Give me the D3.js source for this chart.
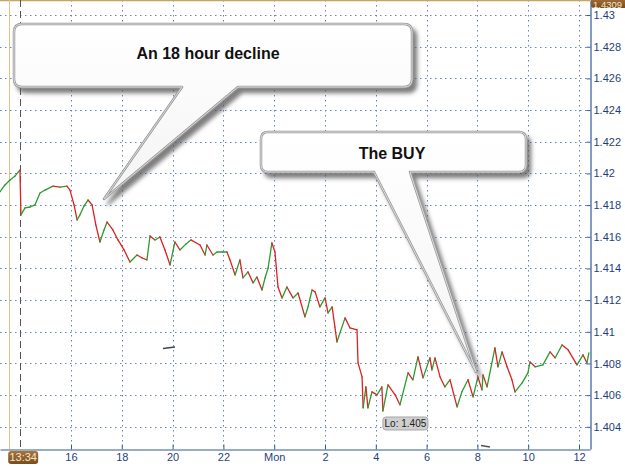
<!DOCTYPE html>
<html><head><meta charset="utf-8">
<script src="https://cdn.jsdelivr.net/npm/d3@7"></script>
<style>
html,body{margin:0;padding:0;background:#fff;}
svg{display:block;font-family:Arial,"Liberation Sans",sans-serif;}
</style></head>
<body>
<svg id="chart" width="625" height="466"></svg>
<script>
// ---- data (hours since start of previous day; 24 = Monday 00:00) ----
const times = [13.20,13.40,13.60,13.80,13.99,14.03,14.19,14.39,14.58,14.78,14.98,15.29,15.57,15.84,15.96,16.12,16.24,16.35,16.51,16.67,16.83,16.98,17.14,17.30,17.42,17.65,17.85,18.09,18.32,18.60,18.80,18.99,19.11,19.31,19.50,19.70,19.90,20.09,20.29,20.53,20.72,21.08,21.28,21.35,21.59,21.75,21.98,22.14,22.26,22.46,22.65,22.77,22.97,23.17,23.32,23.52,23.64,23.76,23.91,24.03,24.15,24.31,24.50,24.74,24.94,25.21,25.33,25.49,25.61,25.80,26.00,26.12,26.28,26.39,26.47,26.79,26.98,27.26,27.30,27.46,27.50,27.61,27.69,27.85,28.05,28.24,28.28,28.48,28.76,28.95,29.27,29.46,29.66,29.86,30.13,30.21,30.33,30.53,30.72,30.92,31.20,31.39,31.63,31.83,32.02,32.18,32.22,32.38,32.69,32.81,32.97,33.17,33.36,33.48,33.76,33.99,34.07,34.27,34.58,34.86,35.06,35.33,35.57,35.92,36.16,36.31,36.39];
const prices = [1.41883,1.41927,1.41958,1.41984,1.42021,1.41738,1.41782,1.41788,1.41801,1.41876,1.41895,1.41920,1.41914,1.41920,1.41895,1.41801,1.41706,1.41738,1.41794,1.41832,1.41801,1.41674,1.41567,1.41643,1.41693,1.41643,1.41580,1.41517,1.41441,1.41485,1.41466,1.41454,1.41605,1.41580,1.41599,1.41517,1.41422,1.41567,1.41517,1.41555,1.41580,1.41548,1.41485,1.41548,1.41485,1.41504,1.41504,1.41504,1.41454,1.41359,1.41454,1.41340,1.41378,1.41309,1.41346,1.41264,1.41340,1.41403,1.41561,1.41504,1.41283,1.41214,1.41283,1.41214,1.41245,1.41094,1.41157,1.41264,1.41252,1.41157,1.41214,1.41119,1.41157,1.41031,1.40936,1.41088,1.41025,1.41012,1.40804,1.40715,1.40520,1.40652,1.40520,1.40621,1.40602,1.40652,1.40500,1.40665,1.40602,1.40539,1.40741,1.40697,1.40842,1.40709,1.40835,1.40760,1.40835,1.40715,1.40652,1.40697,1.40526,1.40621,1.40697,1.40589,1.40715,1.40633,1.40728,1.40652,1.40898,1.40779,1.40873,1.40779,1.40697,1.40621,1.40678,1.40741,1.40810,1.40779,1.40791,1.40873,1.40835,1.40917,1.40886,1.40791,1.40854,1.40804,1.40867];
const xTicks = [16,18,20,22,24,26,28,30,32,34,36];
const xTickLabels = ["16","18","20","22","Mon","2","4","6","8","10","12"];
const yTicks = [1.404,1.406,1.408,1.41,1.412,1.414,1.416,1.418,1.42,1.422,1.424,1.426,1.428,1.43];
const cursorTime = 13.567, cursorLabel = "13:34";
const sessionTime = 14.0;
const lastLabel = "1.4309";
const callouts = [
  {text:"An 18 hour decline"},
  {text:"The BUY"}
];

const svg = d3.select("#chart");
const W = 590, H = 449;
const x = d3.scaleLinear().domain([13.205, 36.433]).range([0, W]);
const y = d3.scaleLinear().domain([1.4026, 1.43095]).range([H, 0]);

const defs = svg.append("defs");
const f = defs.append("filter").attr("id","sh").attr("x","-10%").attr("y","-10%").attr("width","130%").attr("height","140%");
f.append("feDropShadow").attr("dx",4).attr("dy",5).attr("stdDeviation",2.2).attr("flood-color","#555").attr("flood-opacity",0.75);
const lg = defs.append("linearGradient").attr("id","bx").attr("x1",0).attr("y1",0).attr("x2",0).attr("y2",1);
lg.append("stop").attr("offset","0").attr("stop-color","#ffffff");
lg.append("stop").attr("offset","1").attr("stop-color","#f4f4f4");
const bg = defs.append("linearGradient").attr("id","brown").attr("x1",0).attr("y1",0).attr("x2",0).attr("y2",1);
bg.append("stop").attr("offset","0").attr("stop-color","#a8743a");
bg.append("stop").attr("offset","1").attr("stop-color","#7a4c1e");

// grid
const grid = svg.append("g");
grid.selectAll("line.h").data(yTicks).join("line")
  .attr("x1",0).attr("x2",W).attr("y1",d=>Math.round(y(d))+0.5).attr("y2",d=>Math.round(y(d))+0.5)
  .attr("stroke","#6585b8").attr("stroke-dasharray","1.5,3.5");
grid.selectAll("line.v").data(xTicks).join("line")
  .attr("y1",0).attr("y2",H).attr("x1",d=>Math.round(x(d))+0.5).attr("x2",d=>Math.round(x(d))+0.5)
  .attr("stroke","#6585b8").attr("stroke-dasharray","1.5,3.5");

// top border
svg.append("line").attr("x1",0).attr("x2",W).attr("y1",0.5).attr("y2",0.5).attr("stroke","#c9a466").attr("stroke-width",1.5);
// cursor line and session line
svg.append("line").attr("x1",Math.round(x(cursorTime))+0.5).attr("x2",Math.round(x(cursorTime))+0.5).attr("y1",0).attr("y2",H)
  .attr("stroke","#e4bf8a").attr("stroke-width",1);
svg.append("line").attr("x1",Math.round(x(sessionTime))+0.5).attr("x2",Math.round(x(sessionTime))+0.5).attr("y1",0).attr("y2",H)
  .attr("stroke","#555").attr("stroke-dasharray","7,4");

// price segments
const segs = d3.pairs(times.map((t,i)=>({t,p:prices[i]})));
svg.append("g").selectAll("line").data(segs).join("line")
  .attr("x1",d=>x(d[0].t)).attr("y1",d=>y(d[0].p))
  .attr("x2",d=>x(d[1].t)).attr("y2",d=>y(d[1].p))
  .attr("stroke",d=>d[1].p>=d[0].p?"#2e9a2e":"#dd2222")
  .attr("stroke-width",1.3).attr("stroke-linecap","round");

// stray marks
svg.append("line").attr("x1",163).attr("y1",348.5).attr("x2",175).attr("y2",347).attr("stroke","#444").attr("stroke-width",1.3);
svg.append("line").attr("x1",481).attr("y1",445.5).attr("x2",490).attr("y2",447).attr("stroke","#555").attr("stroke-width",1.3);

// axes
const yAxis = d3.axisRight(y).tickValues(yTicks).tickSize(-4).tickSizeOuter(0).tickPadding(3)
  .tickFormat(d=>String(+d.toFixed(3)));
const gy = svg.append("g").attr("transform",`translate(${W+0.5},0)`).call(yAxis);
const xAxis = d3.axisBottom(x).tickValues(xTicks).tickSize(-5).tickSizeOuter(0).tickPadding(4)
  .tickFormat((d,i)=>xTickLabels[i]);
const gx = svg.append("g").attr("transform",`translate(0,${H+0.5})`).call(xAxis);
[gx,gy].forEach(g=>{
  g.select(".domain").attr("stroke","#2f5a99").attr("stroke-width",1.2);
  g.selectAll(".tick line").attr("stroke","#2f5a99");
  g.selectAll(".tick text").attr("fill","#1f3f7a").attr("font-size",11).attr("font-family","Arial, 'Liberation Sans', sans-serif");
});

// cursor label at bottom
const cx = x(cursorTime);
svg.append("rect").attr("x",cx-1).attr("y",451).attr("width",30).attr("height",13).attr("rx",3)
  .attr("fill","url(#brown)");
svg.append("text").attr("x",cx+14).attr("y",461).attr("text-anchor","middle").attr("font-size",11)
  .attr("fill","#f3e6cc").text(cursorLabel);
// top-right price label
svg.append("rect").attr("x",W+1).attr("y",-3).attr("width",40).attr("height",11).attr("rx",3).attr("fill","url(#brown)");
svg.append("text").attr("x",W+3).attr("y",7.5).attr("font-size",9.5).attr("fill","#f3e6cc").text(lastLabel);

// Lo label
const iMin = d3.minIndex(prices);
const lx = x(times[iMin]), ly = y(prices[iMin]);
svg.append("rect").attr("x",lx).attr("y",ly+6).attr("width",45).attr("height",13).attr("rx",3)
  .attr("fill","#cfcfcf").attr("stroke","#a8a8a8");
svg.append("text").attr("x",lx+22.5).attr("y",ly+16).attr("text-anchor","middle").attr("font-size",10)
  .attr("fill","#222").text("Lo: " + (+prices[iMin].toFixed(3)));

// callouts
function calloutPath(b){
  const {x0,y0,x1,y1,r,tl,tr,tip}=b;
  return `M${x0+r},${y0}H${x1-r}Q${x1},${y0} ${x1},${y0+r}V${y1-r}Q${x1},${y1} ${x1-r},${y1}`+
    `H${tr}L${tip[0]},${tip[1]}L${tl},${y1}H${x0+r}Q${x0},${y1} ${x0},${y1-r}V${y0+r}Q${x0},${y0} ${x0+r},${y0}Z`;
}
const boxes = [
  {x0:14,y0:24,x1:412,y1:87,r:8,tl:182,tr:238,tip:[104,199],tx:208,ty:59},
  {x0:261,y0:132,x1:526,y1:172,r:7,tl:374,tr:410,tip:[476,372],tx:392,ty:159}
];
boxes.forEach((b,i)=>{
  const g = svg.append("g");
  g.append("path").attr("d",calloutPath(b)).attr("fill","url(#bx)").attr("filter","url(#sh)")
    .attr("stroke","#9a9a9a").attr("stroke-width",2.5).attr("stroke-linejoin","round");
  g.append("path").attr("d",calloutPath(b)).attr("fill","none")
    .attr("stroke","#dcdcdc").attr("stroke-width",1);
  g.append("text").attr("x",b.tx).attr("y",b.ty).attr("text-anchor","middle")
    .attr("font-size",16).attr("font-weight","bold").attr("fill","#111").text(callouts[i].text);
});
</script>
</body></html>
